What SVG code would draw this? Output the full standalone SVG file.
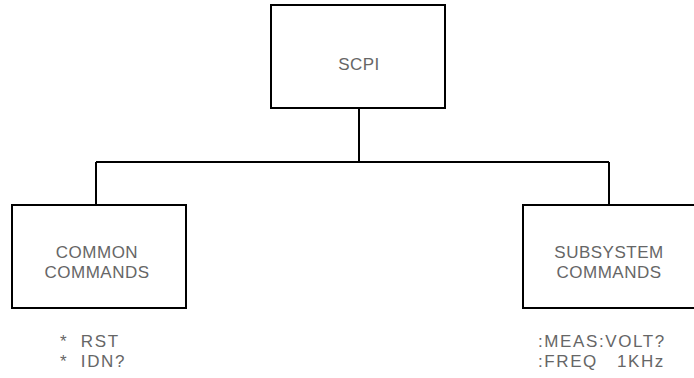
<svg xmlns="http://www.w3.org/2000/svg" width="694" height="378" viewBox="0 0 694 378">
<style>
.box{fill:#fff;stroke:#000;stroke-width:2}
.ln{stroke:#000;stroke-width:2;fill:none}
.t{font-family:"Liberation Sans",Arial,sans-serif;font-size:17px;fill:#666;text-anchor:middle;letter-spacing:0.5px}
.c{font-family:"Liberation Sans",Arial,sans-serif;font-size:17px;fill:#666;letter-spacing:1.6px;white-space:pre}
</style>
<rect width="694" height="378" fill="#fff"/>
<g id="connectors">
<line class="ln" x1="359" y1="108" x2="359" y2="162"/>
<line class="ln" x1="96" y1="162" x2="609" y2="162"/>
<line class="ln" x1="96" y1="162" x2="96" y2="205"/>
<line class="ln" x1="609" y1="162" x2="609" y2="205"/>
</g>
<g id="scpi">
<rect class="box" x="271" y="5" width="174" height="103"/>
<text class="t" x="359" y="70">SCPI</text>
</g>
<g id="common">
<rect class="box" x="12" y="205" width="174" height="103"/>
<text class="t" x="97" y="258">COMMON</text>
<text class="t" x="97" y="278">COMMANDS</text>
<text class="c" x="60" y="347" xml:space="preserve">*  RST</text>
<text class="c" x="60" y="367" xml:space="preserve">*  IDN?</text>
</g>
<g id="subsystem">
<rect class="box" x="523" y="205" width="180" height="103"/>
<text class="t" x="609" y="258">SUBSYSTEM</text>
<text class="t" x="609" y="278">COMMANDS</text>
<text class="c" x="538" y="347">:MEAS:VOLT?</text>
<text class="c" x="538" y="367" xml:space="preserve">:FREQ   1KHz</text>
</g>
</svg>
